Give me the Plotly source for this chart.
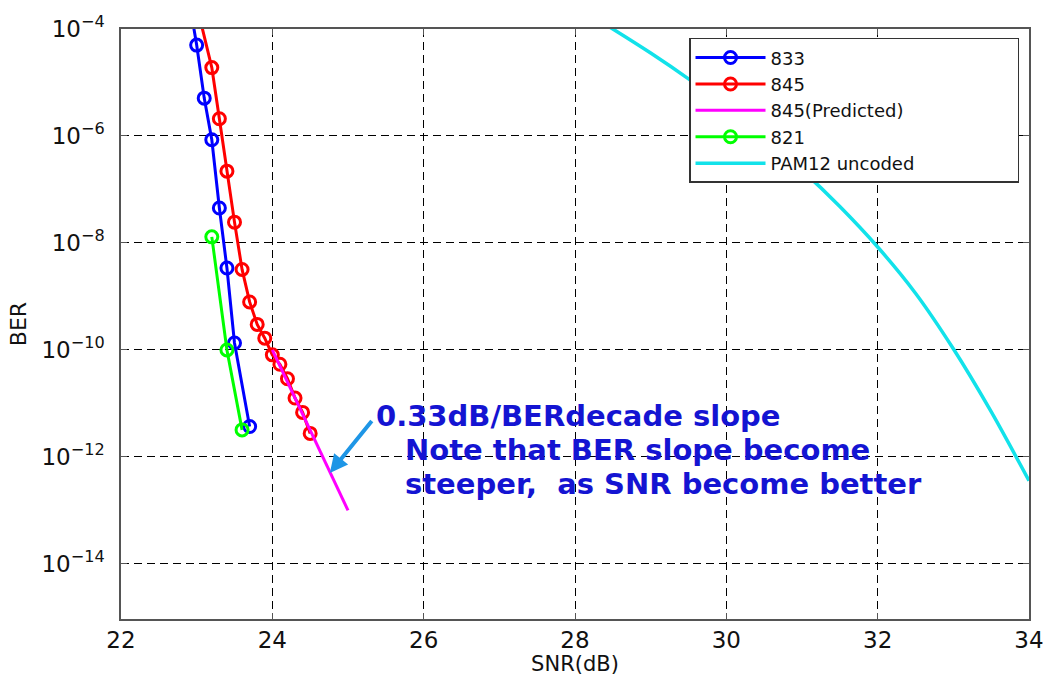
import plotly.graph_objects as go

# ---------------- data ----------------
snr_833 = [22.9, 23.0, 23.1, 23.2, 23.3, 23.4, 23.5, 23.7]
ber_833 = [3.5e-4, 5.0e-5, 5.1e-6, 8.5e-7, 4.5e-8, 3.4e-9, 1.35e-10, 3.7e-12]

snr_845 = [23.0, 23.2, 23.3, 23.4, 23.5, 23.6, 23.7, 23.8, 23.9, 24.0,
           24.1, 24.2, 24.3, 24.4, 24.5]
ber_845 = [2.8e-4, 1.9e-5, 2.1e-6, 2.2e-7, 2.45e-8, 3.2e-9, 7.9e-10, 3.0e-10,
           1.66e-10, 8.1e-11, 5.4e-11, 2.9e-11, 1.26e-11, 6.8e-12, 2.75e-12]

snr_845_pred = [24.0, 25.0]
ber_845_pred = [1.0e-10, 1.0e-13]

snr_821 = [23.2, 23.4, 23.6]
ber_821 = [1.3e-8, 1.0e-10, 3.2e-12]

snr_pam12 = [28.0, 28.5, 29.0, 29.5, 30.0, 30.5, 31.0, 31.5, 32.0, 32.5,
             33.0, 33.5, 34.0]
ber_pam12 = [2.7e-4, 1.0e-4, 3.55e-5, 1.17e-5, 3.55e-6, 9.5e-7, 2.3e-7, 4.8e-8,
             8.4e-9, 1.15e-9, 1.05e-10, 7.0e-12, 3.6e-13]

series_names = ["833", "845", "845(Predicted)", "821", "PAM12 uncoded"]

x_ticks = [22, 24, 26, 28, 30, 32, 34]
y_tick_exponents = [-4, -6, -8, -10, -12, -14]
y_tick_vals = [10.0 ** e for e in y_tick_exponents]
y_tick_text = ["10<sup>\u2212%d</sup>" % (-e) for e in y_tick_exponents]

note_lines = ["0.33dB/BERdecade slope",
              "Note that BER slope become",
              "steeper,  as SNR become better"]

# ---------------- figure ----------------
FONT = "DejaVu Sans"
PAD = "\u00a0" * 17   # widens the legend box like the reference
fig = go.Figure()

marker_style = dict(symbol="circle-open", size=12, line=dict(width=3))

fig.add_trace(go.Scatter(x=snr_833, y=ber_833, name=series_names[0],
                         mode="lines+markers",
                         line=dict(color="#0000FF", width=3),
                         marker=dict(color="#0000FF", **marker_style)))
fig.add_trace(go.Scatter(x=snr_845, y=ber_845, name=series_names[1],
                         mode="lines+markers",
                         line=dict(color="#FF0000", width=3),
                         marker=dict(color="#FF0000", **marker_style)))
fig.add_trace(go.Scatter(x=snr_845_pred, y=ber_845_pred, name=series_names[2],
                         mode="lines", line=dict(color="#FF00FF", width=3)))
fig.add_trace(go.Scatter(x=snr_821, y=ber_821, name=series_names[3],
                         mode="lines+markers",
                         line=dict(color="#00FF00", width=3),
                         marker=dict(color="#00FF00", **marker_style)))
fig.add_trace(go.Scatter(x=snr_pam12, y=ber_pam12, name=series_names[4] + PAD,
                         mode="lines",
                         line=dict(color="#12E2EA", width=3.5, shape="spline",
                                   smoothing=0.8)))

axis_common = dict(
    showline=True, linecolor="#555555", linewidth=1.5, mirror="ticks",
    ticks="inside", ticklen=6, tickcolor="#555555",
    showgrid=True, gridcolor="#000000", gridwidth=1, griddash="8px,5px",
    zeroline=False, automargin=False,
    tickfont=dict(family=FONT, size=23, color="#111111"),
)

fig.update_xaxes(range=[22, 34], tickvals=x_ticks,
                 title=dict(text="SNR(dB)", standoff=6,
                            font=dict(family=FONT, size=21, color="#111111")),
                 **axis_common)
fig.update_yaxes(type="log", range=[-15.03, -4], tickvals=y_tick_vals,
                 ticktext=y_tick_text, ticklabelstandoff=10,
                 title=dict(text="BER", standoff=9,
                            font=dict(family=FONT, size=22, color="#111111")),
                 **axis_common)

# white patch behind the note (covers grid, not traces)
fig.add_shape(type="rect", xref="paper", yref="paper",
              x0=0.2654, x1=0.9163, y0=0.188, y1=0.383,
              fillcolor="white", line=dict(width=0), layer="between")

note_pos = [(0.2790, 0.3440), (0.3110, 0.2865), (0.3110, 0.2290)]
for txt, (px, py) in zip(note_lines, note_pos):
    fig.add_annotation(text=txt, xref="paper", yref="paper", x=px, y=py,
                       xanchor="left", yanchor="middle", showarrow=False,
                       font=dict(family=FONT, size=29, color="#1414D2",
                                 weight="bold"))

# arrow pointing to the predicted slope
fig.add_annotation(text="", x=24.76, y=-12.30, xref="x", yref="y",
                   ax=25.33, ay=-11.30, axref="x", ayref="y",
                   showarrow=True, arrowhead=2, arrowsize=0.9, arrowwidth=4,
                   arrowcolor="#1E96E6", standoff=0)

fig.update_layout(
    width=1046, height=676,
    margin=dict(l=121, r=17, t=29, b=57, autoexpand=False),
    paper_bgcolor="white", plot_bgcolor="white",
    font=dict(family=FONT, color="#111111"),
    legend=dict(x=0.989, y=0.985, xanchor="right", yanchor="top",
                bgcolor="white", bordercolor="#333333", borderwidth=1.5,
                font=dict(family=FONT, size=18, color="#111111"),
                itemwidth=70),
    showlegend=True,
)

fig.write_html("out.html",
               config={"displayModeBar": False},
               post_script="document.body.style.margin='0';")
